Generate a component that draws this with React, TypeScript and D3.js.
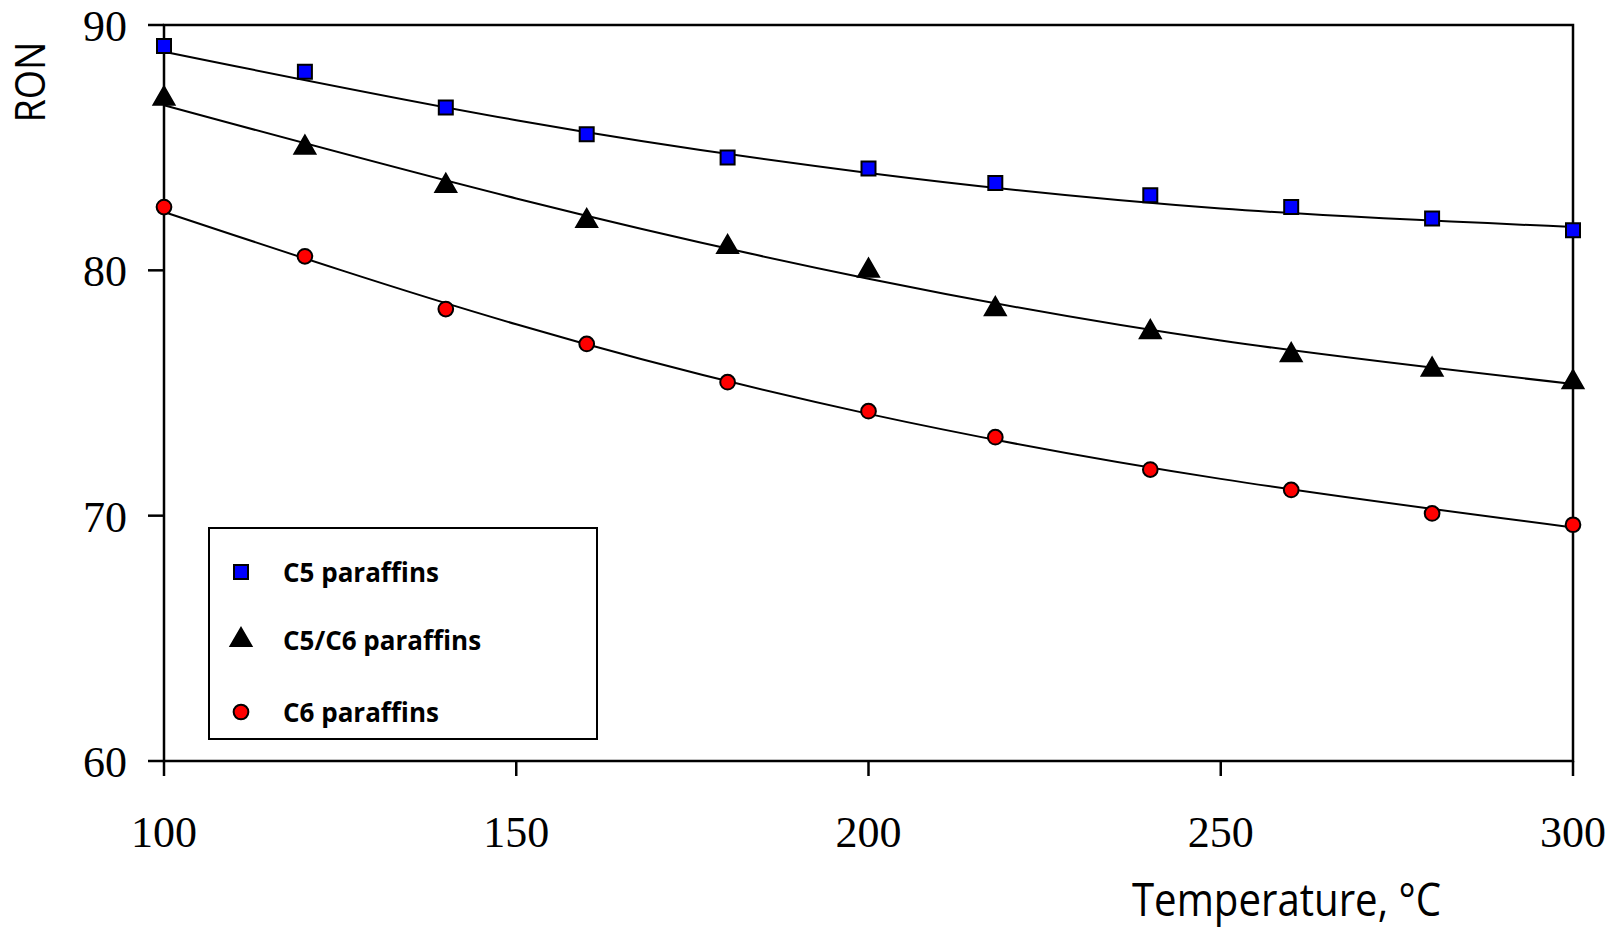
import React, { useEffect, useRef } from 'react';
import * as d3 from 'd3';

// measured points
const temps = [100, 120, 140, 160, 180, 200, 218, 240, 260, 280, 300];
const c5 = [89.14, 88.09, 86.64, 85.55, 84.6, 84.15, 83.56, 83.06, 82.58, 82.11, 81.63];
const c5c6 = [87.0, 85.0, 83.44, 82.01, 80.95, 79.99, 78.42, 77.48, 76.54, 75.95, 75.44];
const c6 = [82.58, 80.57, 78.42, 77.0, 75.44, 74.26, 73.2, 71.88, 71.05, 70.09, 69.63];

// trend lines
const fitTemps = [100, 150, 200, 250, 300];
const c5Fit = [88.91, 86.12, 83.97, 82.52, 81.77];
const c5c6Fit = [86.73, 82.93, 79.66, 77.14, 75.37];
const c6Fit = [82.38, 77.8, 74.15, 71.5, 69.52];

const xTicks = [100, 150, 200, 250, 300];
const yTicks = [60, 70, 80, 90];

const seriesNames = ['C5 paraffins', 'C5/C6 paraffins', 'C6 paraffins'];

const App = () => {
    const ref = useRef<SVGSVGElement>(null);

    useEffect(() => {
        drawChart();
    }, []);

    const drawChart = () => {
        const W = 1623, H = 930;
        const left = 164, right = 1573, top = 25, bottom = 761;

        const svg = d3.select(ref.current);
        svg.selectAll('*').remove();
        svg.attr('width', W).attr('height', H);

        const x = d3.scaleLinear().domain([100, 300]).range([left, right]);
        const y = d3.scaleLinear().domain([60, 90]).range([bottom, top]);

        const serif = '"Liberation Serif", "Times New Roman", serif';
        const sans = '"Open Sans", "Noto Sans", sans-serif';

        // frame
        svg.append('rect')
            .attr('x', left).attr('y', top)
            .attr('width', right - left).attr('height', bottom - top)
            .attr('fill', 'none').attr('stroke', '#000').attr('stroke-width', 2.5);

        // y ticks
        svg.selectAll('.ytick')
            .data(yTicks)
            .enter()
            .append('line')
            .attr('x1', left - 16).attr('x2', left)
            .attr('y1', d => y(d)).attr('y2', d => y(d))
            .attr('stroke', '#000').attr('stroke-width', 2.5);

        svg.selectAll('.ylab')
            .data(yTicks)
            .enter()
            .append('text')
            .attr('x', 127)
            .attr('y', d => y(d) + 16)
            .attr('text-anchor', 'end')
            .style('font-family', serif)
            .style('font-size', '44px')
            .text(d => d);

        // x ticks
        svg.selectAll('.xtick')
            .data(xTicks)
            .enter()
            .append('line')
            .attr('x1', d => x(d)).attr('x2', d => x(d))
            .attr('y1', bottom).attr('y2', bottom + 15)
            .attr('stroke', '#000').attr('stroke-width', 2.5);

        svg.selectAll('.xlab')
            .data(xTicks)
            .enter()
            .append('text')
            .attr('x', d => x(d))
            .attr('y', 847)
            .attr('text-anchor', 'middle')
            .style('font-family', serif)
            .style('font-size', '44px')
            .text(d => d);

        // axis titles
        svg.append('text')
            .attr('transform', 'translate(45,82) rotate(-90)')
            .attr('text-anchor', 'middle')
            .attr('textLength', 81)
            .attr('lengthAdjust', 'spacingAndGlyphs')
            .style('font-family', sans)
            .style('font-size', '42px')
            .text('RON');

        svg.append('text')
            .attr('x', 1132)
            .attr('y', 916)
            .attr('textLength', 309)
            .attr('lengthAdjust', 'spacingAndGlyphs')
            .style('font-family', sans)
            .style('font-size', '45px')
            .text('Temperature, °C');

        // trend lines
        const line = d3.line<number>()
            .x((d, i) => x(fitTemps[i]))
            .y(d => y(d))
            .curve(d3.curveNatural);

        [c5Fit, c5c6Fit, c6Fit].forEach(fit => {
            svg.append('path')
                .attr('d', line(fit))
                .attr('fill', 'none')
                .attr('stroke', '#000')
                .attr('stroke-width', 2);
        });

        const square = d3.symbol().type(d3.symbolSquare).size(196);
        const triangle = d3.symbol().type(d3.symbolTriangle).size(190);
        const circle = d3.symbol().type(d3.symbolCircle).size(170);

        const marks = [
            { vals: c5, sym: square, fill: '#0000ff' },
            { vals: c5c6, sym: triangle, fill: '#000' },
            { vals: c6, sym: circle, fill: '#ff0000' },
        ];

        marks.forEach(m => {
            svg.selectAll(null)
                .data(m.vals)
                .enter()
                .append('path')
                .attr('transform', (d, i) => 'translate(' + x(temps[i]) + ',' + y(d) + ')')
                .attr('d', m.sym())
                .attr('fill', m.fill)
                .attr('stroke', '#000')
                .attr('stroke-width', 2);
        });

        // legend
        const lg = svg.append('g');
        lg.append('rect')
            .attr('x', 209).attr('y', 528)
            .attr('width', 388).attr('height', 211)
            .attr('fill', '#fff').attr('stroke', '#000').attr('stroke-width', 2);

        const rowY = [572, 640, 712];
        marks.forEach((m, i) => {
            lg.append('path')
                .attr('transform', 'translate(241,' + rowY[i] + ')')
                .attr('d', m.sym())
                .attr('fill', m.fill)
                .attr('stroke', '#000')
                .attr('stroke-width', 2);
            lg.append('text')
                .attr('x', 283)
                .attr('y', rowY[i] + 10)
                .style('font-family', sans)
                .style('font-weight', 'bold')
                .style('font-size', '26px')
                .text(seriesNames[i]);
        });
    };

    return <svg ref={ref} style={{ position: 'absolute', left: 0, top: 0, display: 'block' }}></svg>;
};

export default App;
